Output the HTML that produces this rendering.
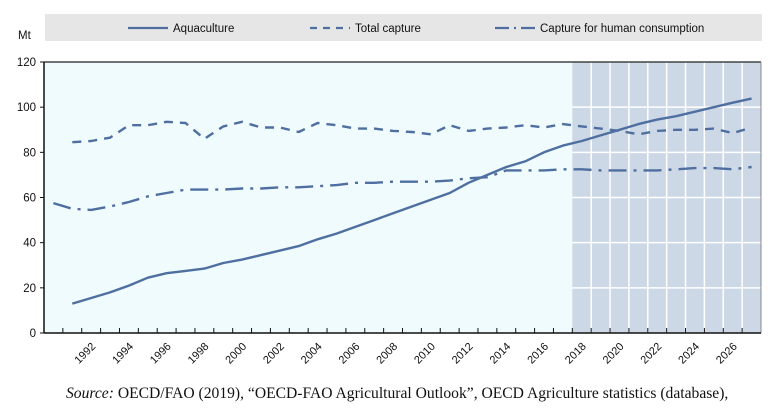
<!DOCTYPE html>
<html><head><meta charset="utf-8"><style>
body{margin:0;background:#fff;width:779px;height:403px;overflow:hidden;font-family:"Liberation Sans",sans-serif}
</style></head><body>
<svg width="779" height="403">
<rect x="45" y="14" width="717" height="27" fill="#e6e6e6"/>
<g font-size="11.5" fill="#111">
<line x1="128" y1="28" x2="168" y2="28" stroke="#4f6fa0" stroke-width="2.2"/>
<text x="173" y="32">Aquaculture</text>
<line x1="310" y1="28" x2="350" y2="28" stroke="#4f6fa0" stroke-width="2.2" stroke-dasharray="7,6"/>
<text x="355" y="32">Total capture</text>
<line x1="495" y1="28" x2="535" y2="28" stroke="#4f6fa0" stroke-width="2.2" stroke-dasharray="14,5,2,5"/>
<text x="540" y="32">Capture for human consumption</text>
</g>
<text x="18" y="39" font-size="11.5" fill="#111">Mt</text>
<rect x="44" y="62" width="717" height="271" fill="#f0fbfd"/>
<g id="proj"></g>
<g id="axes"></g>
<g id="series"></g>
<text x="66" y="398" font-family="Liberation Serif,serif" font-size="15.6" fill="#111"><tspan font-style="italic">Source:</tspan> OECD/FAO (2019), “OECD-FAO Agricultural Outlook”, OECD Agriculture statistics (database),</text>
</svg>
<script>
const years=[];for(let y=1990;y<=2027;y++)years.push(y);
const aquaculture=[null,13,15.5,18,21,24.5,26.5,27.5,28.5,31,32.5,34.5,36.5,38.5,41.5,44,47,50,53,56,59,62,66.5,70,73.5,76,80,83,85,87.5,90,92.5,94.5,96,98,100,102,103.8];
const totalCapture=[null,84.5,85,86.5,92,92,93.5,93,86,91.5,93.5,91,91,89,93,92,90.5,90.5,89.5,89,88,92,89.5,90.5,91,92,91,92.5,91.5,90.5,89.5,88,89.5,90,90,90.5,88.5,91];
const humanConsumption=[57.5,55,54.5,56,58,60.5,62,63.5,63.5,63.5,64,64,64.5,64.5,65,65.5,66.5,66.5,67,67,67,67.5,68.5,69,72,72,72,72.5,72.5,72,72,72,72,72.5,73,73,72.5,73.5];
const yTicks=[0,20,40,60,80,100,120];
const projStart=2018;
const NS='http://www.w3.org/2000/svg';
const X0=44,X1=761,Y0=333,Y1=62,bw=(X1-X0)/years.length;
const xs=i=>X0+(i+0.5)*bw, ys=v=>Y0-(v/120)*(Y0-Y1);
function mk(t,a,p){const e=document.createElementNS(NS,t);for(const k in a)e.setAttribute(k,a[k]);p.appendChild(e);return e;}
const proj=document.getElementById('proj'),axes=document.getElementById('axes'),ser=document.getElementById('series');
const pi=years.indexOf(projStart);
const px=X0+pi*bw;
mk('rect',{x:px,y:Y1,width:X1-px,height:Y0-Y1,fill:'#cdd8e7'},proj);
for(let i=pi+1;i<years.length;i++){let l=mk('line',{x1:X0+i*bw,x2:X0+i*bw,y1:Y1,y2:Y0,stroke:'#fff','stroke-width':1.5},proj);

}
yTicks.forEach(v=>{if(v>0&&v<120){let l=mk('line',{x1:px,x2:X1,y1:ys(v),y2:ys(v),stroke:'#fff','stroke-width':1.5},proj);

}});
mk('line',{x1:X0,x2:X1,y1:Y1,y2:Y1,stroke:'#444','stroke-width':1.4},axes);
mk('line',{x1:X1,x2:X1,y1:Y1,y2:Y0,stroke:'#888','stroke-width':1},axes);
let ya=mk('line',{x1:X0,x2:X0,y1:Y1,y2:Y0,stroke:'#111','stroke-width':1.5},axes);


let xa=mk('line',{x1:X0,x2:X1,y1:Y0,y2:Y0,stroke:'#111','stroke-width':1.5},axes);


yTicks.forEach(v=>{mk('line',{x1:X0-4,x2:X0,y1:ys(v),y2:ys(v),stroke:'#111'},axes);
let t=mk('text',{x:X0-8,y:ys(v)+4,'text-anchor':'end','font-size':11.5,fill:'#111'},axes);t.textContent=v;

});
years.forEach((y,i)=>{if(i>0)mk('line',{x1:X0+i*bw,x2:X0+i*bw,y1:Y0,y2:Y0-5,stroke:'#111'},axes);
if(y%2===0&&i>0){const cx=xs(i)+5,cy=Y0+14;let t=mk('text',{x:cx,y:cy,'text-anchor':'end','font-size':11,fill:'#111',transform:`rotate(-45 ${cx} ${cy})`},axes);t.textContent=y;

}});
function line(arr,dash,name){let d='';arr.forEach((v,i)=>{if(v==null)return;d+=(d?'L':'M')+xs(i).toFixed(1)+','+ys(v).toFixed(1);});
let p=mk('path',{d:d,fill:'none',stroke:'#4f6fa0','stroke-width':2.4,'stroke-dasharray':dash,'stroke-linejoin':'round'},ser);

}
line(humanConsumption,'18,7,3,7','series-human-consumption');
line(totalCapture,'9,7','series-total-capture');
line(aquaculture,'none','series-aquaculture');
</script>
</body></html>
